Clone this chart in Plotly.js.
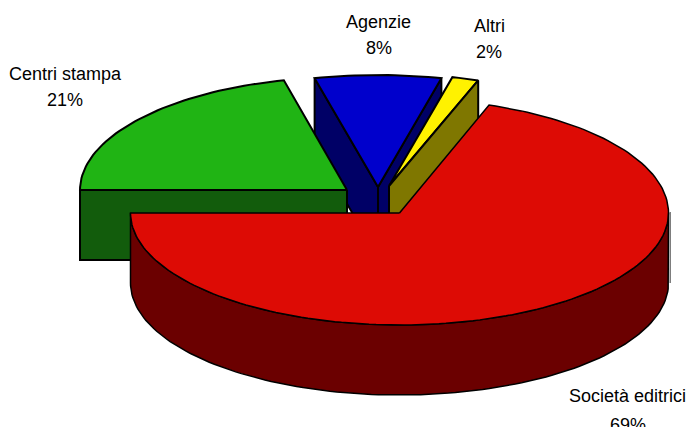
<!DOCTYPE html>
<html><head><meta charset="utf-8">
<script src="https://cdn.plot.ly/plotly-3.0.1.min.js"></script>
<style>html,body{margin:0;padding:0;background:#fff;overflow:hidden}</style>
</head><body><div id="chart" style="width:687px;height:427px"></div>
<script>
const categories = ["Centri stampa", "Agenzie", "Altri", "Società editrici"];
const shares = [21.2, 7.6, 1.6, 69.6];
const percentLabels = ["21%", "8%", "2%", "69%"];

// rendering geometry of the tilted pie (separate from the data)
const DEPTH = 70, START = 180, RY_FRONT = 112;
const centers = [[347,190],[378,187],[389,186],[399.5,213]];
const radiiX = [267,268,268,269];
const radiiY = [113,112,112,114.5];
const topColors = ["#20b414","#0000cc","#fff200","#dd0b05"];
const wallColors = ["#125c0c","#000066","#7f7700","#6b0000"];
const labelPos = [[65,74,100],[378.5,22,48],[489,26,52],[627.5,396,425]];

function pt(i, deg, dy){ const a = deg*Math.PI/180, s=Math.sin(a);
  return [centers[i][0]+radiiX[i]*Math.cos(a), centers[i][1]-(s>0?radiiY[i]:RY_FRONT)*s+(dy||0)]; }
function arc(i, a0, a1, dy){ const n = Math.max(2,Math.ceil(Math.abs(a1-a0)/1.5)), r=[];
  for(let k=0;k<=n;k++) r.push(pt(i,a0+(a1-a0)*k/n,dy)); return r; }
function poly(points, fill, w){
  const p = points.concat([points[0]]);
  return {type:"scatter",mode:"lines",x:p.map(q=>q[0]),y:p.map(q=>q[1]),fill:"toself",fillcolor:fill,
    line:{color:"#000",width:w,shape:"linear"},hoverinfo:"skip",showlegend:false};
}
// slice bounds, walking clockwise from the start angle
let bounds=[],ang=START;
shares.forEach(v=>{const sweep=v/100*360; bounds.push([ang,ang-sweep]); ang-=sweep;});
function radialWall(i,deg){ const c=centers[i],e=pt(i,deg);
  return poly([c,e,[e[0],e[1]+DEPTH],[c[0],c[1]+DEPTH]],wallColors[i],2); }
function topFace(i,w){
  return poly([centers[i]].concat(arc(i,bounds[i][0],bounds[i][1])),topColors[i],w); }

const traces=[];
// Agenzie
traces.push(radialWall(1,bounds[1][0]));
traces.push(radialWall(1,bounds[1][1]));
traces.push(topFace(1,2));
// Centri stampa
traces.push(radialWall(0,bounds[0][0]));
traces.push(topFace(0,2));
// Altri
traces.push(topFace(2,2));
traces.push(radialWall(2,bounds[2][1]));
// Società editrici: faint grey edge behind the wall, wall, then top
const rEdge = pt(3,0);
traces.push({type:"scatter",mode:"lines",x:[rEdge[0]+1.7,rEdge[0]+1.7],y:[rEdge[1]-1,rEdge[1]+DEPTH],
  line:{color:"#777",width:1.5},hoverinfo:"skip",showlegend:false});
traces.push(poly(arc(3,180,360).concat(arc(3,360,180,DEPTH)),wallColors[3],1.5));
traces.push(topFace(3,1.5));

const annotations=[];
categories.forEach((name,i)=>{
  const [x,y1,y2]=labelPos[i];
  [[name,y1],[percentLabels[i],y2]].forEach(([text,y])=>annotations.push({
    x,y,xref:"x",yref:"y",text,showarrow:false,xanchor:"center",yanchor:"middle",
    font:{family:"Liberation Sans, Arial, sans-serif",size:18,color:"#000"}}));
});

Plotly.newPlot("chart",traces,{
  width:687,height:427,margin:{l:0,r:0,t:0,b:0},paper_bgcolor:"#fff",plot_bgcolor:"#fff",
  showlegend:false,
  xaxis:{range:[0,687],visible:false,fixedrange:true},
  yaxis:{range:[427,0],visible:false,fixedrange:true},
  annotations
},{displayModeBar:false,staticPlot:true});
</script></body></html>
